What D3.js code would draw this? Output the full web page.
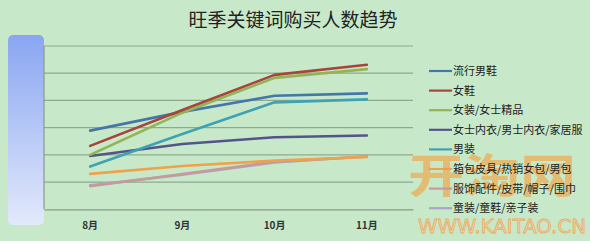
<!DOCTYPE html>
<html><head><meta charset="utf-8">
<script src="https://cdn.jsdelivr.net/npm/d3@7"></script>
<style>body{margin:0;background:#c8e9c9;}svg{display:block;}</style>
</head><body><svg id="c" width="590" height="241"></svg>
<script>
const title = "旺季关键词购买人数趋势";
const months = ["8月","9月","10月","11月"];
const seriesNames = ["流行男鞋","女鞋","女装/女士精品","女士内衣/男士内衣/家居服","男装","箱包皮具/热销女包/男包","服饰配件/皮带/帽子/围巾","童装/童鞋/亲子装"];
const seriesColors = ["#4377a8","#a8443c","#92b455","#54548c","#3fa2b4","#eea24c","#c79a9a","#a6a6c6"];
const s1 = [2.89,3.58,4.17,4.26];
const s2 = [2.33,3.65,4.94,5.31];
const s3 = [2.00,3.55,4.83,5.15];
const s4 = [1.96,2.40,2.65,2.71];
const s5 = [1.57,2.77,3.93,4.04];
const s6 = [1.30,1.59,1.79,1.92];
const s7 = [0.85,1.30,1.75,1.93];
const s8 = [0.88,1.27,1.72,1.95];
const allSeries = [s1,s2,s3,s4,s5,s6,s7,s8];
const yTicks = [1,2,3,4,5,6];

(function(){
const svg = d3.select("#c");
const W=590,H=241;
svg.append("rect").attr("width",W).attr("height",H).attr("fill","#c8e9c9");

const pLeft=44,pRight=413,pTop=46,pBottom=209.3;
const x = d3.scaleBand().domain(months).range([pLeft,pRight]);
const y = d3.scaleLinear().domain([0,6]).range([pBottom,pTop]);

// left gradient wall
const defs=svg.append("defs");
const g=defs.append("linearGradient").attr("id","wall").attr("x1",0).attr("y1",0).attr("x2",0).attr("y2",1);
g.append("stop").attr("offset","0%").attr("stop-color","#8aa6f2");
g.append("stop").attr("offset","100%").attr("stop-color","#e2e9fb");
svg.append("rect").attr("x",8).attr("y",35).attr("width",36).attr("height",190).attr("rx",5).attr("fill","url(#wall)");

// gridlines
svg.append("g").selectAll("line").data(yTicks).join("line")
  .attr("x1",pLeft).attr("x2",pRight).attr("y1",d=>y(d)).attr("y2",d=>y(d))
  .attr("stroke","#8fa98f").attr("stroke-width",1.2);

// axes
const xAxis = svg.append("g").attr("transform",`translate(0,${pBottom})`).call(d3.axisBottom(x).tickSize(0).tickPadding(13));
xAxis.select(".domain").attr("stroke","#889a88").attr("stroke-width",1.2);
xAxis.selectAll("text").attr("font-family","'Noto Sans CJK SC'").attr("font-size",10).attr("font-weight","bold").attr("fill","#333");
svg.append("line").attr("x1",pLeft).attr("x2",pLeft).attr("y1",pTop).attr("y2",pBottom).attr("stroke","#889a88").attr("stroke-width",1.2);

// lines
const line = d3.line().x((d,i)=>x(months[i])+x.bandwidth()/2).y(d=>y(d));
const order=[7,6,5,3,4,0,2,1];
order.forEach(i=>{
  svg.append("path").attr("d",line(allSeries[i])).attr("fill","none")
    .attr("stroke",seriesColors[i]).attr("stroke-width",2.6).attr("stroke-linecap","round").attr("stroke-linejoin","round");
});

// title
svg.append("text").attr("x",293).attr("y",27).attr("text-anchor","middle")
  .attr("font-family","'Noto Sans CJK SC'").attr("font-size",19).attr("fill","#222").text(title);

// watermark (behind legend text)
svg.append("text").attr("x",408).attr("y",192)
  .attr("font-family","'Noto Sans CJK SC'").attr("font-weight","bold").attr("font-size",46)
  .attr("textLength",168).attr("lengthAdjust","spacingAndGlyphs")
  .attr("fill","#f0a84e").attr("opacity",0.7).text("开淘网");
svg.append("text").attr("x",418).attr("y",233)
  .attr("font-family","'DejaVu Sans'").attr("font-size",19)
  .attr("textLength",168).attr("lengthAdjust","spacingAndGlyphs")
  .attr("fill","#f6d4a0").attr("stroke","#eaa860").attr("stroke-width",0.8).attr("opacity",0.9).text("WWW.KAITAO.CN");

// legend
const lg = svg.append("g");
seriesNames.forEach((n,i)=>{
  const yy = 71 + i*19.6;
  lg.append("line").attr("x1",429).attr("x2",452).attr("y1",yy).attr("y2",yy).attr("stroke",seriesColors[i]).attr("stroke-width",2.2);
  lg.append("text").attr("x",453).attr("y",yy+4).attr("font-family","'Noto Sans CJK SC'").attr("font-size",11).attr("fill","#222").text(n);
});
})();
</script></body></html>
